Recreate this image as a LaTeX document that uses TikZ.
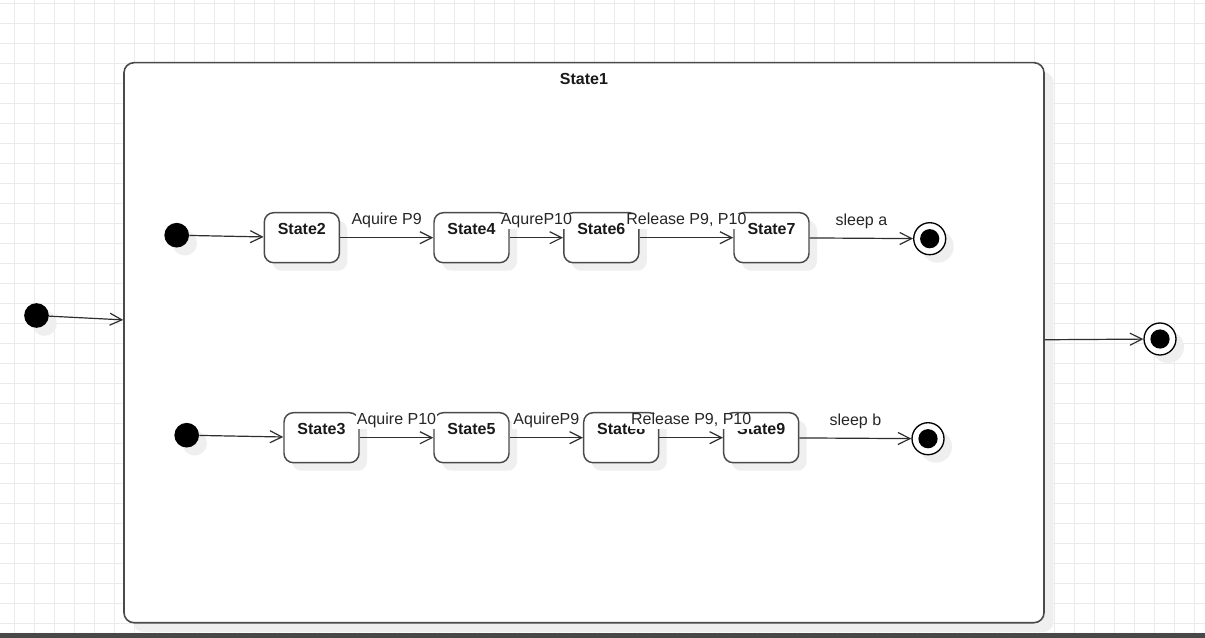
\documentclass[tikz,border=0pt]{standalone}
\usepackage{fontspec}
\setmainfont{Liberation Sans}
\usetikzlibrary{arrows.meta,shadows}
\definecolor{gridcol}{HTML}{EBEBEB}
\definecolor{barcol}{HTML}{484848}
\definecolor{shdcol}{HTML}{EFEFEF}
\definecolor{strokecol}{HTML}{4A4A4A}
\definecolor{edgecol}{HTML}{2E2E2E}
\begin{document}
\begin{tikzpicture}[x=0.75pt,y=-0.75pt,
  font=\fontsize{12}{14}\selectfont,
  shd/.style={general shadow={fill=shdcol, shadow xshift=6pt, shadow yshift=-6pt}},
  stbox/.style={draw=strokecol, line width=1.1pt, fill=white, rounded corners=7pt,
    minimum width=56.25pt, minimum height=37.5pt, inner sep=0pt, shd},
  stlab/.style={anchor=north, yshift=-8pt, inner sep=0pt, font=\fontsize{12}{14}\selectfont\bfseries, text=black!90},
  container/.style={draw=strokecol, line width=1.2pt, fill=white, rounded corners=7.5pt,
    minimum width=690pt, minimum height=420pt, inner sep=0pt,
    general shadow={fill=shdcol, shadow xshift=7pt, shadow yshift=-7pt}},
  initdot/.style={circle, fill=black, minimum size=18.5pt, inner sep=0pt, shd},
  finalst/.style={circle, draw=black, line width=1pt, fill=white, minimum size=24pt, inner sep=0pt, shd,
    path picture={\fill[black] (path picture bounding box.center) circle (7.2pt);}},
  tr/.style={draw=edgecol, line width=0.9pt, -{Straight Barb[length=9pt,width=9pt]}},
  elab/.style={fill=white, inner sep=1pt, text height=0.72em, text depth=0.21em, text=black!85,
    above=6.4pt, midway}
]
\useasboundingbox (0,0) rectangle (1205,638);
\fill[white] (0,0) rectangle (1205,638);
% grid
\foreach \i in {0,...,59} \draw[gridcol, line width=0.75pt] ({14.5+20*\i},0) -- ({14.5+20*\i},638);
\foreach \j in {0,...,31} \draw[gridcol, line width=0.75pt] (0,{3.2+20*\j}) -- (1205,{3.2+20*\j});
% container
\node[container, label={[stlab]north:State1}] (s1) at (584,342.7) {};
% outer initial and final
\node[initdot] (i0) at (36.5,315.5) {};
\node[finalst] (f0) at (1160,339) {};
% row 1
\node[initdot] (i1) at (176.7,235.2) {};
\node[stbox, label={[stlab]north:State2}] (s2) at (301.8,237.7) {};
\node[stbox, label={[stlab]north:State4}] (s4) at (471.5,237.7) {};
\node[stbox, label={[stlab]north:State6}] (s6) at (601.3,237.7) {};
\node[stbox, label={[stlab]north:State7}] (s7) at (771.5,237.7) {};
\node[finalst] (f1) at (929.7,238.7) {};
% row 2
\node[initdot] (i2) at (186.7,435.2) {};
\node[stbox, label={[stlab]north:State3}] (s3) at (321.5,437.7) {};
\node[stbox, label={[stlab]north:State5}] (s5) at (471.5,437.7) {};
\node[stbox, label={[stlab]north:State8}] (s8) at (621.2,437.7) {};
\node[stbox, label={[stlab]north:State9}] (s9) at (761.2,437.7) {};
\node[finalst] (f2) at (928,438.7) {};
% transitions
\draw[tr] (i0) -- (s1);
\draw[tr] (s1) -- (f0);
\draw[tr] (i1) -- (s2);
\draw[tr] (s2.east) -- node[elab]{Aquire P9} (s4.west);
\draw[tr] (s4.east) -- node[elab]{AqureP10} (s6.west);
\draw[tr] (s6.east) -- node[elab]{Release P9, P10} (s7.west);
\draw[tr] (s7) -- node[elab]{sleep a} (f1);
\draw[tr] (i2) -- (s3);
\draw[tr] (s3.east) -- node[elab]{Aquire P10} (s5.west);
\draw[tr] (s5.east) -- node[elab]{AquireP9} (s8.west);
\draw[tr] (s8.east) -- node[elab]{Release P9, P10} (s9.west);
\draw[tr] (s9) -- node[elab]{sleep b} (f2);
% bottom bar
\fill[barcol] (0,632.7) rectangle (1205,638);
\end{tikzpicture}
\end{document}
